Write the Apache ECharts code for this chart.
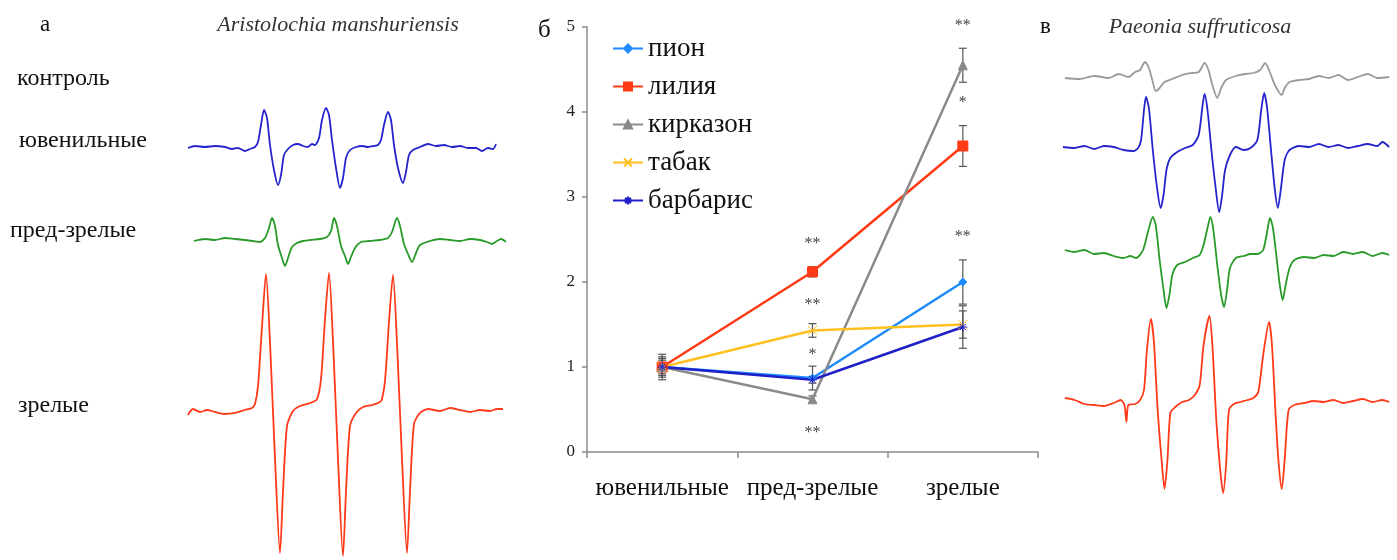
<!DOCTYPE html>
<html>
<head>
<meta charset="utf-8">
<script src="https://cdn.jsdelivr.net/npm/echarts@6/dist/echarts.min.js"></script>
<style>
  html, body { margin: 0; padding: 0; background: #fff; }
  #main { width: 1397px; height: 560px; }
</style>
</head>
<body>
<div id="main"></div>
<script>
// --- б: относительная интенсивность сигнала ЭПР ---
var stages = ['ювенильные', 'пред-зрелые', 'зрелые'];
var yTicks = [0, 1, 2, 3, 4, 5];

var pion = [1, 0.87, 2.0];
var liliya = [1, 2.12, 3.6];
var kirkazon = [1, 0.62, 4.55];
var tabak = [1, 1.43, 1.5];
var barbaris = [1, 0.85, 1.47];

var pionErr = [0.1, 0.14, 0.26];
var liliyaErr = [0.08, 0.06, 0.24];
var kirkazonErr = [0.15, 0.04, 0.2];
var tabakErr = [0.05, 0.08, 0.16];
var barbarisErr = [0.12, 0.04, 0.25];

// звёздочки значимости: [стадия, уровень, текст]
var stars = [
  [1, 2.5, '**'], [1, 1.78, '**'], [1, 1.19, '*'], [1, 0.27, '**'],
  [2, 5.06, '**'], [2, 4.15, '*'], [2, 2.58, '**']
];

// --- спектры ЭПР: [поле, амплитуда], отн. ед. ---
// а) Aristolochia manshuriensis
var aJuv = [[3,-1],[10,1],[20,0],[30,1],[40,0],[47,-2],[53,-1],[60,-4],[65,-2],[70,0],[73,5],[76,22],[79,37],[82,29],[85,2],[89,-23],[93,-38],[96,-28],[99,-8],[103,-2],[108,2],[113,3],[118,1],[123,0],[127,3],[130,2],[134,9],[137,27],[141,39],[144,32],[147,7],[151,-21],[155,-41],[158,-31],[161,-11],[165,-3],[171,0],[177,1],[183,0],[189,1],[193,2],[196,7],[199,22],[203,35],[206,27],[209,2],[213,-21],[218,-36],[221,-25],[224,-8],[228,-3],[235,0],[243,3],[251,1],[259,2],[267,0],[275,1],[283,-1],[291,-1],[297,-4],[303,-1],[308,-2],[311,3]];
var aPre = [[9,-1],[20,1],[30,0],[40,2],[50,1],[60,0],[68,-1],[75,-2],[80,2],[84,12],[87,22],[90,14],[93,-5],[97,-18],[100,-26],[103,-18],[107,-7],[112,-3],[118,-1],[125,0],[135,1],[142,3],[146,9],[149,22],[152,14],[156,-6],[160,-16],[163,-24],[166,-17],[170,-8],[176,-2],[185,-1],[195,0],[203,2],[207,8],[212,22],[215,14],[219,-4],[223,-14],[227,-22],[231,-13],[235,-5],[245,-1],[255,1],[265,0],[275,-1],[285,1],[295,0],[302,-2],[307,-4],[312,-1],[316,1],[321,-2]];
var aMat = [[3,-4],[8,2],[15,-1],[22,1],[30,-1],[40,-3],[50,-2],[60,1],[67,3],[70,7],[73,25],[77,85],[81,138],[85,69],[90,-48],[95,-143],[98,-81],[102,-15],[108,0],[115,5],[125,8],[132,12],[136,32],[140,92],[144,139],[148,70],[153,-48],[158,-146],[161,-81],[165,-15],[171,-2],[178,4],[187,6],[195,9],[197,12],[200,30],[204,90],[208,137],[212,68],[217,-48],[222,-143],[225,-81],[229,-13],[235,-2],[243,2],[255,0],[265,3],[275,1],[285,-1],[295,1],[305,0],[312,2],[318,2]];

// в) Paeonia suffruticosa
var vCtrl = [[5,0],[20,-1],[35,2],[50,0],[60,4],[70,1],[77,6],[82,8],[87,16],[91,10],[95,-4],[98,-13],[102,-10],[107,-4],[115,-1],[125,3],[135,5],[142,6],[148,15],[152,8],[156,-7],[161,-20],[165,-10],[170,-2],[180,2],[190,4],[198,5],[205,8],[210,15],[214,8],[220,-7],[227,-17],[230,-10],[235,-4],[245,-2],[255,-1],[265,2],[275,0],[285,3],[295,-2],[305,1],[315,4],[325,0],[337,1]];
var vJuv = [[3,1],[15,0],[25,2],[35,-1],[45,2],[55,1],[65,-2],[75,-3],[80,0],[83,8],[86,38],[88,51],[91,40],[95,-2],[99,-37],[103,-60],[106,-47],[109,-22],[113,-10],[120,-4],[128,0],[136,3],[142,13],[146,43],[148,54],[151,38],[155,-2],[159,-37],[163,-64],[166,-47],[169,-22],[174,-7],[180,1],[188,-2],[195,0],[202,8],[206,38],[209,55],[212,40],[216,-2],[220,-42],[223,-60],[226,-42],[230,-12],[235,-2],[245,2],[255,1],[265,4],[275,1],[285,3],[295,0],[305,2],[315,4],[325,2],[330,6],[337,1]];
var vPre = [[5,3],[15,1],[25,3],[35,-1],[45,0],[55,-3],[65,-5],[72,-3],[78,-5],[85,3],[90,21],[95,36],[98,28],[102,-7],[106,-37],[109,-55],[112,-42],[115,-22],[120,-12],[128,-9],[136,-5],[143,-2],[147,8],[151,25],[154,36],[157,23],[161,-12],[165,-42],[168,-54],[171,-37],[174,-15],[180,-5],[188,-3],[195,-1],[202,-1],[208,3],[212,21],[215,35],[218,25],[222,-7],[225,-32],[228,-47],[231,-32],[235,-15],[240,-7],[250,-4],[260,-5],[270,-2],[280,-3],[290,1],[300,-1],[310,1],[320,-3],[330,0],[337,-2]];
var vMat = [[5,5],[15,3],[25,-1],[35,-2],[45,-3],[55,0],[62,3],[66,-2],[68,-19],[70,-2],[77,-1],[82,3],[86,13],[89,53],[93,84],[96,63],[100,-7],[104,-57],[107,-86],[110,-57],[113,-10],[118,-4],[125,1],[132,3],[138,8],[143,18],[147,58],[153,87],[156,58],[160,-17],[164,-67],[167,-90],[170,-62],[173,-7],[178,-1],[185,1],[192,3],[198,5],[203,11],[208,48],[214,81],[217,58],[221,-17],[224,-62],[227,-86],[230,-57],[234,-7],[240,-2],[250,0],[260,2],[270,1],[280,3],[290,0],[300,2],[310,4],[320,1],[330,3],[337,1]];

var serif = '"Liberation Serif", "DejaVu Serif", serif';
var chart = echarts.init(document.getElementById('main'));

// grid 0 = line chart, the rest = one grid per spectrum
var grids = [{ left: 587, top: 27, width: 451, height: 425 }];
var xAxes = [{
  type: 'category', gridIndex: 0, data: stages,
  axisLine: { lineStyle: { color: '#8c8c8c', width: 1.5 } },
  axisTick: { show: true, length: 6, lineStyle: { color: '#8c8c8c', width: 1.5 } },
  axisLabel: { color: '#111', fontFamily: serif, fontSize: 25, margin: 24, interval: 0, hideOverlap: false }
}];
var yAxes = [{
  type: 'value', gridIndex: 0, min: yTicks[0], max: yTicks[yTicks.length - 1], interval: 1,
  axisLine: { show: true, lineStyle: { color: '#8c8c8c', width: 1.5 } },
  axisTick: { show: true, length: 5, lineStyle: { color: '#8c8c8c', width: 1.5 } },
  splitLine: { show: false },
  axisLabel: { color: '#222', fontFamily: serif, fontSize: 17, margin: 12 }
}];

var series = [];

function addSpectrum(data, color, left, base, span, xmax) {
  var gi = grids.length;
  grids.push({ left: left, top: base - span, width: xmax, height: span * 2 });
  xAxes.push({ type: 'value', gridIndex: gi, min: 0, max: xmax, show: false });
  yAxes.push({ type: 'value', gridIndex: gi, min: -span, max: span, show: false });
  series.push({
    type: 'line', xAxisIndex: gi, yAxisIndex: gi, data: data, smooth: 0.25,
    showSymbol: false, silent: true, lineStyle: { color: color, width: 1.8 }
  });
}

addSpectrum(aJuv, '#2424cc', 185, 147, 45, 325);
addSpectrum(aPre, '#2a9a2a', 185, 240, 30, 325);
addSpectrum(aMat, '#ff3a1a', 185, 412, 150, 325);
addSpectrum(vCtrl, '#9a9a9a', 1060, 78, 25, 345);
addSpectrum(vJuv, '#2424cc', 1060, 148, 70, 345);
addSpectrum(vPre, '#2a9a2a', 1060, 253, 60, 345);
addSpectrum(vMat, '#ff3a1a', 1060, 403, 100, 345);

var lines = [
  { name: 'пион', data: pion, err: pionErr, color: '#1e8cff', symbol: 'diamond', size: 8 },
  { name: 'лилия', data: liliya, err: liliyaErr, color: '#ff3a14', symbol: 'rect', size: 10 },
  { name: 'кирказон', data: kirkazon, err: kirkazonErr, color: '#8a8a8a', symbol: 'triangle', size: 9 },
  { name: 'табак', data: tabak, err: tabakErr, color: '#ffc020', symbol: 'path://M0,0L10,10M10,0L0,10', size: 9 },
  { name: 'барбарис', data: barbaris, err: barbarisErr, color: '#2020c8', symbol: 'path://M5,0L5,10M0,5L10,5M1.5,1.5L8.5,8.5M8.5,1.5L1.5,8.5', size: 9 }
];

function errRender(params, api) {
  var lo = api.coord([api.value(0), api.value(1)]);
  var hi = api.coord([api.value(0), api.value(2)]);
  var st = { stroke: '#555', lineWidth: 1.2 };
  return { type: 'group', children: [
    { type: 'line', shape: { x1: lo[0], y1: lo[1], x2: hi[0], y2: hi[1] }, style: st },
    { type: 'line', shape: { x1: lo[0] - 4, y1: lo[1], x2: lo[0] + 4, y2: lo[1] }, style: st },
    { type: 'line', shape: { x1: hi[0] - 4, y1: hi[1], x2: hi[0] + 4, y2: hi[1] }, style: st }
  ]};
}

lines.forEach(function (s) {
  series.push({
    type: 'custom', xAxisIndex: 0, yAxisIndex: 0, renderItem: errRender, z: 1, silent: true,
    data: s.data.map(function (v, i) { return [i, v - s.err[i], v + s.err[i]]; })
  });
});

lines.forEach(function (s) {
  series.push({
    name: s.name, type: 'line', xAxisIndex: 0, yAxisIndex: 0, data: s.data,
    symbol: s.symbol, symbolSize: s.size, showSymbol: true, z: 3,
    lineStyle: { color: s.color, width: 2.5 },
    itemStyle: { color: s.color, borderColor: s.color, borderWidth: 1 }
  });
});

series.push({
  type: 'custom', xAxisIndex: 0, yAxisIndex: 0, silent: true, z: 4, data: stars,
  renderItem: function (params, api) {
    var p = api.coord([api.value(0), api.value(1)]);
    return { type: 'text', x: p[0], y: p[1] + 4,
      style: { text: stars[params.dataIndex][2], fill: '#444', font: '16px ' + serif, align: 'center', verticalAlign: 'middle' } };
  }
});

var txt = function (x, y, text, size, extra) {
  var o = { type: 'text', x: x, y: y, style: { text: text, fill: '#111', font: size + 'px ' + serif, verticalAlign: 'middle' } };
  if (extra) Object.keys(extra).forEach(function (k) { o.style[k] = extra[k]; });
  return o;
};

var option = {
  animation: false,
  backgroundColor: '#fff',
  grid: grids,
  xAxis: xAxes,
  yAxis: yAxes,
  legend: {
    data: lines.map(function (s) { return s.name; }),
    orient: 'vertical', left: 607, top: 30, itemWidth: 30, itemHeight: 10, itemGap: 11,
    textStyle: { color: '#111', fontFamily: serif, fontSize: 27, lineHeight: 26 }
  },
  series: series,
  graphic: [
    txt(40, 25, 'а', 23),
    txt(338, 25, 'Aristolochia manshuriensis', 22, { align: 'center', font: 'italic 22px ' + serif, fill: '#333' }),
    txt(17, 79, 'контроль', 24),
    txt(19, 141, 'ювенильные', 24),
    txt(10, 231, 'пред-зрелые', 24),
    txt(18, 406, 'зрелые', 24),
    txt(538, 30, 'б', 25),
    txt(1040, 27, 'в', 23),
    txt(1200, 27, 'Paeonia suffruticosa', 22, { align: 'center', font: 'italic 22px ' + serif, fill: '#333' })
  ]
};

chart.setOption(option);
</script>
</body>
</html>
